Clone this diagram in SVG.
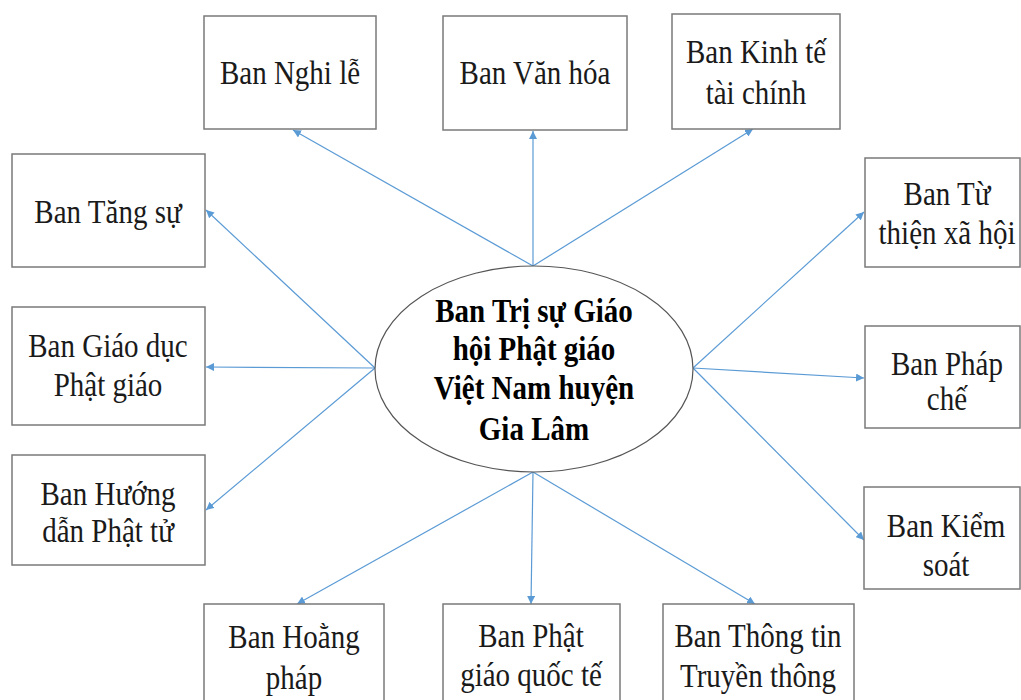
<svg xmlns="http://www.w3.org/2000/svg" width="1021" height="700" viewBox="0 0 1021 700">
<defs>
<style>
.box{fill:#ffffff;stroke:#7a7a7a;stroke-width:1.5}
.t{font-family:"Liberation Serif","Times New Roman",serif;font-size:29px;fill:#1a1a1a;text-anchor:middle}
.b{font-weight:bold;fill:#000}
.c{stroke:#5b9bd5;stroke-width:1.2;fill:none;marker-end:url(#ah)}
</style>
<marker id="ah" markerUnits="userSpaceOnUse" markerWidth="9" markerHeight="8" refX="8" refY="4" orient="auto">
<path d="M0,0 L8,4 L0,8 Z" fill="#5b9bd5"/>
</marker>
</defs>
<rect width="1021" height="700" fill="#ffffff"/>
<g id="connectors">
<line class="c" x1="533" y1="266" x2="293" y2="130"/>
<line class="c" x1="533" y1="266" x2="533" y2="131"/>
<line class="c" x1="533" y1="266" x2="753" y2="129"/>
<line class="c" x1="375" y1="368" x2="206" y2="210"/>
<line class="c" x1="375" y1="368" x2="206" y2="367"/>
<line class="c" x1="375" y1="368" x2="206" y2="510"/>
<line class="c" x1="693" y1="368" x2="864" y2="212"/>
<line class="c" x1="693" y1="368" x2="864" y2="378"/>
<line class="c" x1="693" y1="368" x2="864" y2="540"/>
<line class="c" x1="533" y1="472" x2="297" y2="604"/>
<line class="c" x1="533" y1="472" x2="531" y2="604"/>
<line class="c" x1="533" y1="472" x2="755" y2="604"/>
</g>
<g id="center">
<ellipse cx="534" cy="369" rx="159" ry="103" fill="#ffffff" stroke="#555" stroke-width="1.2"/>
<text class="t b" transform="translate(534,322) scale(1,1.15)">Ban Trị sự Giáo</text>
<text class="t b" transform="translate(534,360) scale(1,1.15)">hội Phật giáo</text>
<text class="t b" transform="translate(534,399) scale(1,1.15)">Việt Nam huyện</text>
<text class="t b" transform="translate(534,440) scale(1,1.15)">Gia Lâm</text>
</g>
<g id="nghile">
<rect class="box" x="204" y="16" width="172" height="113"/>
<text class="t" transform="translate(290,84) scale(1,1.15)">Ban Nghi lễ</text>
</g>
<g id="vanhoa">
<rect class="box" x="443" y="16" width="184" height="114"/>
<text class="t" transform="translate(535,84) scale(1,1.15)">Ban Văn hóa</text>
</g>
<g id="kinhte">
<rect class="box" x="672" y="14" width="168" height="115"/>
<text class="t" transform="translate(756,63) scale(1,1.15)">Ban Kinh tế</text>
<text class="t" transform="translate(756,104) scale(1,1.15)">tài chính</text>
</g>
<g id="tangsu">
<rect class="box" x="12" y="154" width="193" height="113"/>
<text class="t" transform="translate(108,223) scale(1,1.15)">Ban Tăng sự</text>
</g>
<g id="giaoduc">
<rect class="box" x="12" y="307" width="193" height="118"/>
<text class="t" transform="translate(108,357) scale(1,1.15)">Ban Giáo dục</text>
<text class="t" transform="translate(108,396) scale(1,1.15)">Phật giáo</text>
</g>
<g id="huongdan">
<rect class="box" x="12" y="455" width="193" height="110"/>
<text class="t" transform="translate(108,505) scale(1,1.15)">Ban Hướng</text>
<text class="t" transform="translate(108,542) scale(1,1.15)">dẫn Phật tử</text>
</g>
<g id="hoangphap">
<rect class="box" x="204" y="604" width="180" height="110"/>
<text class="t" transform="translate(294,648) scale(1,1.15)">Ban Hoằng</text>
<text class="t" transform="translate(294,689) scale(1,1.15)">pháp</text>
</g>
<g id="phatgiaoquocte">
<rect class="box" x="443" y="604" width="177" height="110"/>
<text class="t" transform="translate(531,647) scale(1,1.15)">Ban Phật</text>
<text class="t" transform="translate(531,686) scale(1,1.15)">giáo quốc tế</text>
</g>
<g id="thongtin">
<rect class="box" x="663" y="604" width="191" height="110"/>
<text class="t" transform="translate(758,647) scale(1,1.15)">Ban Thông tin</text>
<text class="t" transform="translate(758,687) scale(1,1.15)">Truyền thông</text>
</g>
<g id="tuthien">
<rect class="box" x="865" y="158" width="155" height="109"/>
<text class="t" transform="translate(947,205) scale(1,1.15)">Ban Từ</text>
<text class="t" transform="translate(947,244) scale(1,1.15)">thiện xã hội</text>
</g>
<g id="phapche">
<rect class="box" x="865" y="326" width="155" height="102"/>
<text class="t" transform="translate(947,375) scale(1,1.15)">Ban Pháp</text>
<text class="t" transform="translate(947,410) scale(1,1.15)">chế</text>
</g>
<g id="kiemsoat">
<rect class="box" x="864" y="487" width="156" height="102"/>
<text class="t" transform="translate(946,537) scale(1,1.15)">Ban Kiểm</text>
<text class="t" transform="translate(946,576) scale(1,1.15)">soát</text>
</g>
</svg>
